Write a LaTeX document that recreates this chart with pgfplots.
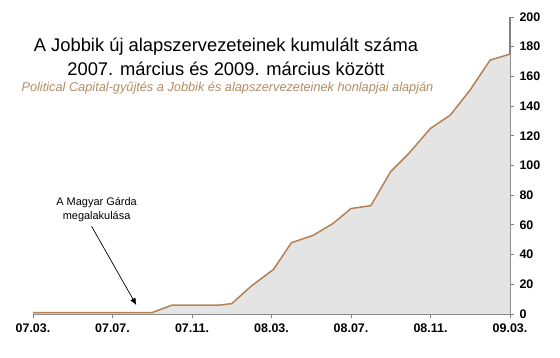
\documentclass[border=0pt]{standalone}
\usepackage{fontspec}
\setmainfont{Liberation Sans}
\usepackage{pgfplots}
\pgfplotsset{compat=1.18}
\usetikzlibrary{arrows.meta}
\definecolor{linebrown}{RGB}{178,130,86}
\definecolor{subbrown}{RGB}{180,140,100}
\definecolor{fillgray}{RGB}{228,228,228}
\definecolor{axisgray}{RGB}{128,128,128}
\pgfplotstableread{
m v
0 1
6 1
7 6
9.4 6
10 7
11 19
12.1 30
13 48
14.1 53
15.1 61
16 71
17 73
18 96
18.9 108
20 125
21 134
22 151
23 171
24 175
}\datatable
\begin{document}
\begin{tikzpicture}
\path[use as bounding box] (0,0) rectangle (560bp,358bp);
\begin{axis}[
 at={(33bp,44bp)}, anchor=south west,
 scale only axis, width=477bp, height=297bp,
 xmin=0, xmax=24, ymin=0, ymax=200,
 axis x line*=bottom, axis y line*=right,
 axis line style={axisgray, line width=1.3pt, -},
 xtick={0,4,...,24},
 xticklabels={07.03.,07.07.,07.11.,08.03.,08.07.,08.11.,09.03.},
 ytick={0,20,...,200},
 tick align=outside, major tick length=4bp,
 tick style={axisgray, line width=1pt},
 ticklabel style={font=\fontsize{12.5}{14}\selectfont\bfseries},
 /pgf/number format/assume math mode=true,
 yticklabel style={anchor=west, xshift=2bp},
 xticklabel style={yshift=-2bp},
 clip=false,
]
\addplot[fill=fillgray, draw=none] table[x=m, y=v] {\datatable} \closedcycle;
\addplot[linebrown, line width=1.5pt] table[x=m, y=v] {\datatable};
\draw[-{Latex[length=7bp,width=6bp]}, line width=0.7pt] (axis cs:2.95,59) -- (axis cs:5.2,6);
\node[align=center, font=\fontsize{11}{14}\selectfont] at (axis cs:3.2,70.6) {A Magyar Gárda\\megalakulása};
\end{axis}
\node[align=center, font=\fontsize{18.4}{24}\selectfont] at (226bp,301bp) {A Jobbik új alapszervezeteinek kumulált száma\\2007. március és 2009. március között};
\node[font=\fontsize{12.8}{14}\selectfont\itshape, text=subbrown] at (227.5bp,270bp) {Political Capital-gyűjtés a Jobbik és alapszervezeteinek honlapjai alapján};
\end{tikzpicture}
\end{document}
